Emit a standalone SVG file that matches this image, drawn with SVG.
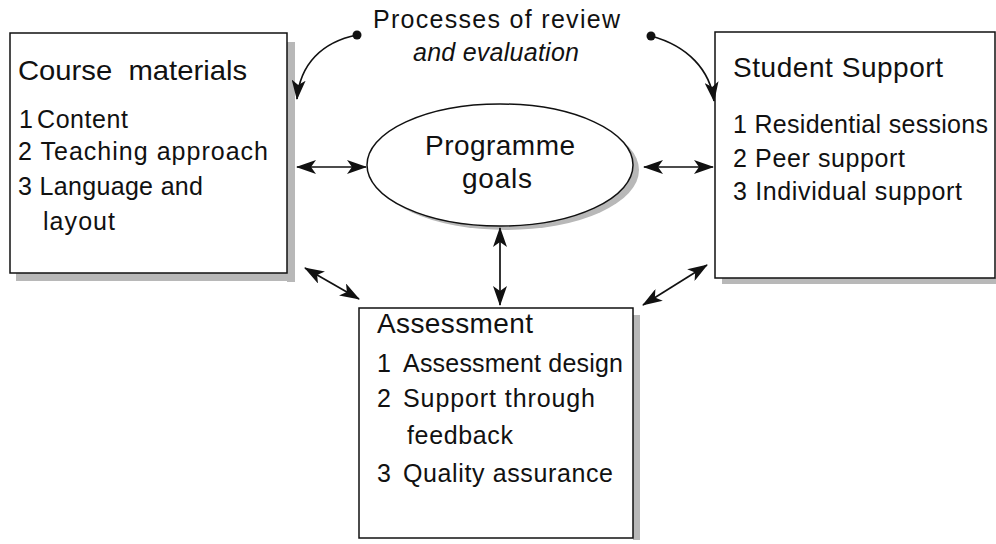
<svg xmlns="http://www.w3.org/2000/svg" width="996" height="544" viewBox="0 0 996 544">
<style>
text{font-family:"Liberation Sans",Arial,sans-serif;font-size:25px;fill:#111;white-space:pre}
.t{font-size:28px}
.box{fill:#fff;stroke:#111;stroke-width:1.5}
.sh{fill:#b8b8b8}
.c{fill:none;stroke:#111;stroke-width:1.7}
</style>
<defs>
<marker id="ah" viewBox="0 0 20 14" refX="19" refY="7" markerWidth="20" markerHeight="14" markerUnits="userSpaceOnUse" orient="auto-start-reverse">
<path d="M0,0 L20,7 L0,14 L5,7 Z" fill="#111"/>
</marker>
</defs>
<rect width="996" height="544" fill="#fff"/>
<g id="course-materials">
<rect class="sh" x="287" y="42" width="8" height="240"/>
<rect class="sh" x="16" y="273" width="279" height="8"/>
<rect class="box" x="10" y="33" width="277" height="240"/>
<text class="t" x="18" y="80" textLength="229" lengthAdjust="spacingAndGlyphs" xml:space="preserve">Course  materials</text>
<text x="19" y="128" font-size="19">1</text>
<text x="37" y="128" textLength="91">Content</text>
<text x="18" y="160" textLength="250">2 Teaching approach</text>
<text x="18" y="195" textLength="185">3 Language and</text>
<text x="43" y="230" textLength="72">layout</text>
</g>
<g id="student-support">
<rect class="sh" x="722" y="278" width="274" height="6"/>
<rect class="box" x="715" y="32" width="280" height="246"/>
<text class="t" x="733" y="77" textLength="210">Student Support</text>
<text x="733" y="133" textLength="255">1 Residential sessions</text>
<text x="733" y="167" textLength="172">2 Peer support</text>
<text x="733" y="200" textLength="229">3 Individual support</text>
</g>
<g id="programme-goals">
<ellipse cx="506" cy="170" rx="133" ry="60" class="sh"/>
<ellipse cx="500" cy="165" rx="133" ry="61" class="box"/>
<text class="t" x="425" y="155" textLength="150">Programme</text>
<text class="t" x="462" y="188" textLength="70">goals</text>
</g>
<g id="assessment">
<rect class="sh" x="633" y="315" width="7" height="225"/>
<rect class="box" x="359" y="308" width="274" height="230"/>
<text class="t" x="377" y="333" textLength="156">Assessment</text>
<text x="377" y="372">1</text><text x="403" y="372" textLength="220">Assessment design</text>
<text x="377" y="407">2</text><text x="403" y="407" textLength="192">Support through</text>
<text x="407" y="444" textLength="106">feedback</text>
<text x="377" y="482">3</text><text x="403" y="482" textLength="210">Quality assurance</text>
</g>
<g id="review-label">
<text x="373" y="28" font-size="28" textLength="247">Processes of review</text>
<text x="413" y="61" font-style="italic" textLength="166">and evaluation</text>
</g>
<g id="connectors">
<circle cx="357" cy="35" r="4.5" fill="#111"/>
<circle cx="651" cy="36" r="4.5" fill="#111"/>
<path class="c" d="M357,35 C322,42 300,64 297,99" marker-end="url(#ah)"/>
<path class="c" d="M651,36 C688,46 710,70 714,101" marker-end="url(#ah)"/>
<line class="c" x1="297" y1="167" x2="366" y2="167" marker-start="url(#ah)" marker-end="url(#ah)"/>
<line class="c" x1="644" y1="167" x2="713" y2="167" marker-start="url(#ah)" marker-end="url(#ah)"/>
<line class="c" x1="500" y1="228" x2="500" y2="305" marker-start="url(#ah)" marker-end="url(#ah)"/>
<line class="c" x1="305" y1="268" x2="359" y2="299" marker-start="url(#ah)" marker-end="url(#ah)"/>
<line class="c" x1="707" y1="265" x2="643" y2="305" marker-start="url(#ah)" marker-end="url(#ah)"/>
</g>
</svg>
